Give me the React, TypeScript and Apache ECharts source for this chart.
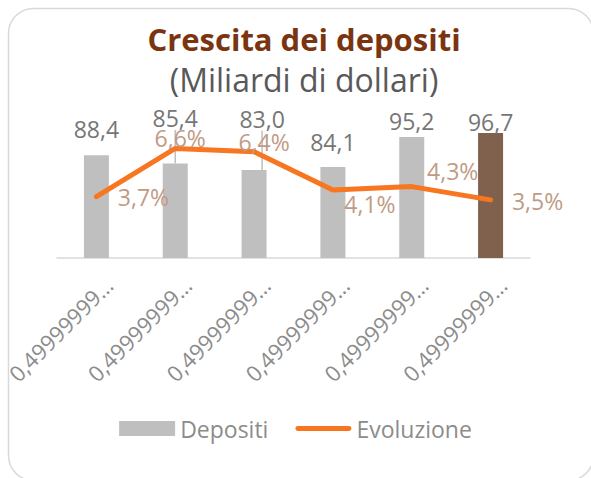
import React, { useEffect, useRef } from "react";
import * as echarts from "echarts";

const TITLE = "Crescita dei depositi";
const SUBTITLE = "(Miliardi di dollari)";
const CATEGORIES = [
  "0,49999999…",
  "0,49999999…",
  "0,49999999…",
  "0,49999999…",
  "0,49999999…",
  "0,49999999…",
];
const SERIES_NAMES = ["Depositi", "Evoluzione"];
const DEPOSITI = [88.4, 85.4, 83.0, 84.1, 95.2, 96.7];
const EVOLUZIONE = [3.7, 6.6, 6.4, 4.1, 4.3, 3.5];
const HIGHLIGHT_INDEX = 5;

const FONT = "'Open Sans', 'Noto Sans', sans-serif";

function buildOption(): any {
  const barLabelDx = [0, 0, 8, 0, 0, 0];
  const barLabelDy = [-18, -37, -43, -17, -8, -3];
  const lineLabelDx = [47, 5, 10, 37, 41, 47];
  const lineLabelDy = [0, -10, -10, 14, -16, 1];
  const fmt = (v: number) => v.toFixed(1).replace(".", ",");

  return {
    animation: false,
    backgroundColor: "#ffffff",
    graphic: [
      {
        type: "rect",
        z: -10,
        shape: { x: 8.5, y: 8.5, width: 585, height: 472, r: 25 },
        style: { fill: "none", stroke: "#d9d9d9", lineWidth: 1.5 },
      },
      {
        type: "text",
        x: 304,
        y: 39,
        style: {
          text: TITLE,
          fill: "#7a3510",
          fontSize: 31,
          lineHeight: 26,
          fontWeight: "bold",
          fontFamily: FONT,
          align: "center",
          verticalAlign: "middle",
        },
      },
      {
        type: "text",
        x: 304,
        y: 79,
        style: {
          text: SUBTITLE,
          fill: "#595959",
          fontSize: 32,
          lineHeight: 26,
          fontFamily: FONT,
          align: "center",
          verticalAlign: "middle",
        },
      },
    ],
    legend: {
      data: [
        { name: SERIES_NAMES[0], icon: "rect" },
        {
          name: SERIES_NAMES[1],
          icon: "path://M2.5,0 L54.5,0 A2.5,2.5 0 0 1 54.5,5 L2.5,5 A2.5,2.5 0 0 1 2.5,0 Z",
        },
      ],
      top: 412,
      left: "center",
      itemWidth: 56,
      itemHeight: 15,
      itemGap: 27,
      textStyle: { fontSize: 23, color: "#8c8c8c", fontFamily: FONT },
    },
    grid: {
      left: 57,
      width: 473,
      top: 87,
      height: 171,
      containLabel: false,
      outerBoundsMode: "none",
    },
    xAxis: {
      type: "category",
      data: CATEGORIES,
      axisTick: { show: false },
      axisLine: { lineStyle: { color: "#d9d9d9", width: 1.5 } },
      axisLabel: {
        interval: 0,
        rotate: 45,
        align: "right",
        verticalAlign: "top",
        margin: 11,
        padding: [6, 0, 0, 0],
        fontSize: 22,
        color: "#8c8c8c",
        fontFamily: FONT,
      },
    },
    yAxis: [
      { type: "value", min: 50.4, max: 113.7, show: false },
      { type: "value", min: 0, max: 10.3, show: false },
    ],
    series: [
      {
        name: SERIES_NAMES[0],
        type: "bar",
        yAxisIndex: 0,
        barWidth: 25,
        itemStyle: { color: "#bfbfbf" },
        data: DEPOSITI.map((v, i) => ({
          value: v,
          itemStyle: i === HIGHLIGHT_INDEX ? { color: "#80614d" } : undefined,
          labelLine: { show: i === 1 || i === 2 },
        })),
        label: {
          show: true,
          position: "top",
          distance: 0,
          fontSize: 23,
          lineHeight: 16,
          color: "#767676",
          fontFamily: FONT,
          formatter: (p: any) => fmt(p.value),
        },
        labelLine: { show: false, lineStyle: { color: "#bfbfbf", width: 1.5 } },
        labelLayout: (p: any) => ({
          dx: barLabelDx[p.dataIndex],
          dy: barLabelDy[p.dataIndex],
        }),
      },
      {
        name: SERIES_NAMES[1],
        type: "line",
        yAxisIndex: 1,
        data: EVOLUZIONE,
        symbol: "circle",
        symbolSize: 1,
        lineStyle: { color: "#f7761f", width: 5, cap: "round", join: "round" },
        itemStyle: { color: "#f7761f" },
        label: {
          show: true,
          position: "inside",
          fontSize: 23,
          lineHeight: 16,
          color: "#bf9b86",
          fontFamily: FONT,
          formatter: (p: any) => fmt(p.value) + "%",
        },
        labelLayout: (p: any) => ({
          dx: lineLabelDx[p.dataIndex],
          dy: lineLabelDy[p.dataIndex],
        }),
        z: 3,
      },
    ],
  };
}

export default function App() {
  const ref = useRef<HTMLDivElement>(null);
  useEffect(() => {
    if (!ref.current) return;
    const chart = echarts.init(ref.current, undefined, { renderer: "svg" });
    chart.setOption(buildOption());
    return () => chart.dispose();
  }, []);
  return (
    <div
      ref={ref}
      style={{ position: "fixed", left: 0, top: 0, width: 591, height: 478 }}
    />
  );
}
